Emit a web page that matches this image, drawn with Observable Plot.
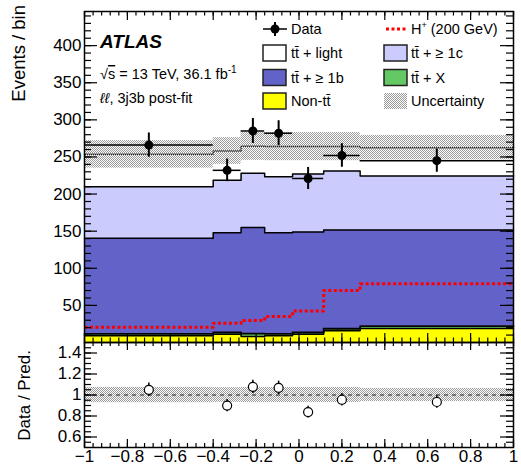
<!DOCTYPE html>
<html><head><meta charset="utf-8">
<script src="https://cdn.jsdelivr.net/npm/d3@7"></script>
<script src="https://cdn.jsdelivr.net/npm/@observablehq/plot@0.6"></script>
<style>
body{margin:0;background:#fff;}
#chart{position:relative;width:521px;height:466px;}
#chart svg{position:absolute;left:0;overflow:visible;}
</style></head><body><div id="chart"></div>
<script>
// ---- data ----
const edges   = [-1, -0.4, -0.27, -0.16, -0.03, 0.115, 0.285, 1];
const nonTT   = [9, 11, 8, 9, 11, 16, 19];
const ttX     = [2.5, 2.5, 4, 2.5, 2.5, 2.5, 3];
const tt1b    = [129, 134.5, 143, 136.5, 135.5, 133, 129.5];
const tt1c    = [69.5, 70.5, 73, 75.5, 78, 79.5, 73];
const ttLight = [43.5, 39.5, 36.5, 40.5, 37, 33, 38];
const uncert  = [18.5, 18, 19, 19, 19, 19, 16.5];
const hPlus   = [20.5, 26, 29.5, 35, 42.5, 70, 79];
const dataObs = [266, 232, 285, 282, 221, 252, 245];

const xTicks      = [-1, -0.8, -0.6, -0.4, -0.2, 0, 0.2, 0.4, 0.6, 0.8, 1];
const yTicksMain  = [50, 100, 150, 200, 250, 300, 350, 400];
const yTicksRatio = [0.6, 0.8, 1, 1.2, 1.4];

const compNames  = ["Non-tt\u0304", "tt\u0304 + X", "tt\u0304 + \u2265 1b", "tt\u0304 + \u2265 1c", "tt\u0304 + light"];
const compColors = ["#ffff00", "#64c864", "#6262c8", "#cbcbfd", "#ffffff"];
const compValues = [nonTT, ttX, tt1b, tt1c, ttLight];

const FONT = "Liberation Sans, Arial, Helvetica, sans-serif";

// ---- derived tables ----
const nb = dataObs.length;
const bins = d3.range(nb).map(i => ({x1: edges[i], x2: edges[i + 1], xc: (edges[i] + edges[i + 1]) / 2}));
const at = (arr, i) => arr[Math.min(i, arr.length - 1)];
let cum = new Array(nb).fill(0);
const areas = [];
const levels = [];
compValues.forEach((vals, k) => {
  const next = cum.map((c, i) => c + vals[i]);
  const lowArr = cum;
  areas.push({fill: compColors[k], pts: edges.map((e, i) => ({x: e, lo: at(lowArr, i), hi: at(next, i)}))});
  levels.push(next);
  cum = next;
});
const total = cum;
const stepPts = lv => edges.map((e, i) => ({x: e, y: at(lv, i)}));
const dataRows = bins.map((b, i) => ({...b, v: dataObs[i], e: Math.sqrt(dataObs[i]),
  r: dataObs[i] / total[i], re: Math.sqrt(dataObs[i]) / total[i],
  lo: total[i] - uncert[i], hi: total[i] + uncert[i],
  rlo: 1 - uncert[i] / total[i], rhi: 1 + uncert[i] / total[i]}));

const minor = (a, b, s) => d3.range(Math.round((b - a) / s) + 1).map(i => +(a + i * s).toFixed(4));

function frameTicks(o) {
  const st = {stroke: "black", strokeWidth: 1.2};
  return [
    Plot.ruleY(o.yMin, {...st, insetRight: o.w - o.yMinLen}),
    Plot.ruleY(o.yMin, {...st, insetLeft: o.w - o.yMinLen}),
    Plot.ruleY(o.yMaj, {...st, insetRight: o.w - o.yMajLen}),
    Plot.ruleY(o.yMaj, {...st, insetLeft: o.w - o.yMajLen}),
    Plot.ruleX(o.xMin, {...st, insetTop: o.h - o.xMinLen}),
    Plot.ruleX(o.xMin, {...st, insetBottom: o.h - o.xMinLen}),
    Plot.ruleX(o.xMaj, {...st, insetTop: o.h - o.xMajLen}),
    Plot.ruleX(o.xMaj, {...st, insetBottom: o.h - o.xMajLen})
  ];
}

const W = 521, ML = 84, MR = 8;
const topH = 343, topMT = 11, topMB = 1;
const botH = 124, botMT = 0, botMB = 19;

const topPlot = Plot.plot({
  width: W, height: topH, marginLeft: ML, marginRight: MR, marginTop: topMT, marginBottom: topMB,
  style: {fontFamily: FONT, background: "white"},
  x: {domain: [-1, 1], axis: null},
  y: {domain: [0, 446], axis: null},
  marks: [
    ...areas.map(a => Plot.areaY(a.pts, {x: "x", y1: "lo", y2: "hi", curve: "step-after", fill: a.fill})),
    ...levels.slice(0, 4).map((lv, k) => Plot.line(stepPts(lv), {x: "x", y: "y", curve: "step-after", stroke: "black", strokeWidth: k === 1 ? 1.8 : 1.5})),
    Plot.line(stepPts(total), {x: "x", y: "y", curve: "step-after", stroke: "#222", strokeWidth: 1.5}),
    Plot.rect(dataRows, {x1: "x1", x2: "x2", y1: "lo", y2: "hi", fill: "url(#unc)"}),
    Plot.line(stepPts(hPlus), {x: "x", y: "y", curve: "step-after", stroke: "#ff0000", strokeWidth: 3, strokeDasharray: "3,2.5", strokeLinecap: "butt"}),
    Plot.ruleY(dataRows, {x1: "x1", x2: "x2", y: "v", stroke: "black", strokeWidth: 1.5}),
    Plot.ruleX(dataRows, {x: "xc", y1: d => d.v - d.e, y2: d => d.v + d.e, stroke: "black", strokeWidth: 2}),
    Plot.dot(dataRows, {x: "xc", y: "v", r: 4.5, fill: "black"}),
    ...frameTicks({w: W - ML - MR, h: topH - topMT - topMB,
      yMaj: yTicksMain, yMin: minor(10, 440, 10), yMajLen: 13, yMinLen: 7,
      xMaj: xTicks, xMin: minor(-1, 1, 0.04), xMajLen: 9, xMinLen: 4.5}),
    Plot.frame({stroke: "black", strokeWidth: 1.5}),
    Plot.axisY({ticks: yTicksMain, tickSize: 0, tickPadding: 3, fontSize: 17, tickFormat: d => String(d)})
  ]
});

const botPlot = Plot.plot({
  width: W, height: botH, marginLeft: ML, marginRight: MR, marginTop: botMT, marginBottom: botMB,
  style: {fontFamily: FONT, background: "transparent"},
  x: {domain: [-1, 1], axis: null},
  y: {domain: [0.5, 1.5], axis: null},
  marks: [
    Plot.rect(dataRows, {x1: "x1", x2: "x2", y1: "rlo", y2: "rhi", fill: "url(#unc)"}),
    Plot.ruleY([1], {stroke: "#222", strokeWidth: 1.2, strokeDasharray: "4,4"}),
    Plot.ruleX(dataRows, {x: "xc", y1: d => d.r - d.re, y2: d => d.r + d.re, stroke: "black", strokeWidth: 1.5}),
    Plot.dot(dataRows, {x: "xc", y: "r", r: 4.5, fill: "white", stroke: "black", strokeWidth: 1.2}),
    ...frameTicks({w: W - ML - MR, h: botH - botMT - botMB,
      yMaj: yTicksRatio, yMin: minor(0.55, 1.45, 0.05), yMajLen: 13, yMinLen: 7,
      xMaj: xTicks, xMin: minor(-1, 1, 0.04), xMajLen: 8, xMinLen: 4}),
    Plot.frame({stroke: "black", strokeWidth: 1.5}),
    Plot.axisY({ticks: yTicksRatio, tickSize: 0, tickPadding: 3, fontSize: 17, tickFormat: d3.format("~g")}),
    Plot.axisX({ticks: xTicks, tickSize: 0, tickPadding: 2, fontSize: 17, tickFormat: d3.format("~g")})
  ]
});

const chart = document.getElementById("chart");
topPlot.style.top = "0px";
botPlot.style.top = (topH - topMB) + "px";
chart.appendChild(topPlot);
chart.appendChild(botPlot);

// pattern for uncertainty
const svgT = d3.select(topPlot);
const pat = svgT.insert("defs", ":first-child").append("pattern")
  .attr("id", "unc").attr("width", 2).attr("height", 2).attr("patternUnits", "userSpaceOnUse");
pat.append("rect").attr("x", 0).attr("y", 0).attr("width", 1).attr("height", 1).attr("fill", "#9a9a9a");
pat.append("rect").attr("x", 1).attr("y", 1).attr("width", 1).attr("height", 1).attr("fill", "#9a9a9a");

// annotations
const ann = svgT.append("g").attr("font-family", FONT).attr("fill", "black").attr("text-anchor", "start");
ann.append("text").attr("x", 100).attr("y", 48).attr("font-size", 19)
  .attr("font-weight", "bold").attr("font-style", "italic").text("ATLAS");
const t2 = ann.append("text").attr("x", 100).attr("y", 79).attr("font-size", 14.5);
t2.append("tspan").text("\u221A");
t2.append("tspan").style("text-decoration", "overline").text("s");
t2.append("tspan").text(" = 13 TeV, 36.1 fb");
t2.append("tspan").attr("dy", -6).attr("font-size", 10).text("-1");
const t3 = ann.append("text").attr("x", 100).attr("y", 103).attr("font-size", 14.5);
t3.append("tspan").attr("font-style", "italic").text("\u2113\u2113");
t3.append("tspan").text(", 3j3b post-fit");

// y titles
svgT.append("text").attr("font-family", FONT).attr("font-size", 18.5).attr("text-anchor", "end")
  .attr("transform", "translate(25,5) rotate(-90)").text("Events / bin");
d3.select(botPlot).append("text").attr("font-family", FONT).attr("font-size", 17).attr("text-anchor", "end")
  .attr("transform", "translate(30,8) rotate(-90)").text("Data / Pred.");

// legend
const lg = svgT.append("g").attr("font-family", FONT).attr("font-size", 14.5).attr("text-anchor", "start");
const rowY = [29, 53, 77.5, 101];
const colBox = [263, 384], colText = [291, 411];
const entries = [
  {col: 0, row: 0, type: "data", label: "Data"},
  {col: 1, row: 0, type: "hplus"},
  {col: 0, row: 1, type: "box", fill: compColors[4], label: compNames[4]},
  {col: 1, row: 1, type: "box", fill: compColors[3], label: compNames[3]},
  {col: 0, row: 2, type: "box", fill: compColors[2], label: compNames[2]},
  {col: 1, row: 2, type: "box", fill: compColors[1], label: compNames[1]},
  {col: 0, row: 3, type: "box", fill: compColors[0], label: compNames[0]},
  {col: 1, row: 3, type: "unc", label: "Uncertainty"}
];
entries.forEach(en => {
  const bx = colBox[en.col], cy = rowY[en.row], tx = colText[en.col];
  if (en.type === "data") {
    lg.append("line").attr("x1", bx).attr("x2", bx + 24).attr("y1", cy).attr("y2", cy).attr("stroke", "black").attr("stroke-width", 1.5);
    lg.append("line").attr("x1", bx + 12).attr("x2", bx + 12).attr("y1", cy - 7).attr("y2", cy + 7).attr("stroke", "black").attr("stroke-width", 2);
    lg.append("circle").attr("cx", bx + 12).attr("cy", cy).attr("r", 4.5).attr("fill", "black");
  } else if (en.type === "hplus") {
    lg.append("line").attr("x1", bx + 2).attr("x2", bx + 24).attr("y1", cy).attr("y2", cy).attr("stroke", "#ff0000").attr("stroke-width", 3).attr("stroke-dasharray", "3,2.5");
    const t = lg.append("text").attr("x", tx).attr("y", cy + 5);
    t.append("tspan").text("H");
    t.append("tspan").attr("dy", -6).attr("font-size", 9).text("+");
    t.append("tspan").attr("dy", 6).text(" (200 GeV)");
    return;
  } else if (en.type === "box") {
    lg.append("rect").attr("x", bx).attr("y", cy - 8).attr("width", 23).attr("height", 16).attr("fill", en.fill).attr("stroke", "#222").attr("stroke-width", 1.5);
  } else {
    lg.append("rect").attr("x", bx).attr("y", cy - 8).attr("width", 23).attr("height", 16).attr("fill", "url(#unc)");
  }
  lg.append("text").attr("x", tx).attr("y", cy + 5).text(en.label);
});
</script></body></html>
